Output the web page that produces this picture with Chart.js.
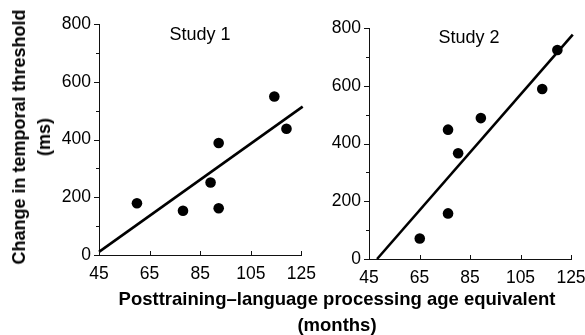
<!DOCTYPE html>
<html>
<head>
<meta charset="utf-8">
<script src="https://cdn.jsdelivr.net/npm/chart.js"></script>
<style>
  body { margin: 0; background: #fff; width: 585px; height: 335px; overflow: hidden; position: relative;
         font-family: "Liberation Sans", Arial, sans-serif; color: #000; }
  canvas { position: absolute; top: 0; }
  .lbl { position: absolute; transform: translate(-50%, -50%); white-space: nowrap; text-align: center; }
  .bold { font-weight: bold; }
</style>
</head>
<body>
<canvas id="study1" width="325" height="290" style="left:0"></canvas>
<canvas id="study2" width="305" height="290" style="left:290px"></canvas>

<div class="lbl" style="left:200px;top:34px;font-size:18px;line-height:18px">Study 1</div>
<div class="lbl" style="left:469px;top:36.5px;font-size:18px;line-height:18px">Study 2</div>
<div class="lbl bold" style="left:32px;top:137px;font-size:18px;line-height:25px;transform:translate(-50%,-50%) rotate(-90deg)">Change in temporal threshold<br>(ms)</div>
<div class="lbl bold" style="left:337px;top:311px;font-size:18.5px;line-height:25.5px">Posttraining–language processing age equivalent<br>(months)</div>

<script>
  //values
  const xTicks = [45, 65, 85, 105, 125];
  const yTicks = [0, 200, 400, 600, 800];
  const yMinorTicks = [100, 300, 500, 700];

  const study1Age = [60, 78.2, 89.1, 92.3, 92.3, 114.3, 119.1];
  const study1Change = [179, 153, 251, 388, 162, 549, 437];
  const study1FitX = [45, 125.5];
  const study1FitY = [11, 514];

  const study2Age = [65.1, 76.3, 76.3, 80.3, 89.3, 113.6, 119.6];
  const study2Change = [71, 158, 448, 366, 488, 589, 724];
  const study2FitX = [48.2, 125.7];
  const study2FitY = [0, 777];

  //tick marks: y ticks outside (left), x ticks pointing up into the plot
  const tickMarks = {
    id: 'tickMarks',
    afterDraw(chart) {
      const ctx = chart.ctx, a = chart.chartArea, x = chart.scales.x, y = chart.scales.y;
      ctx.save();
      ctx.strokeStyle = '#111';
      ctx.lineWidth = 1;
      ctx.beginPath();
      yTicks.forEach(v => {
        const py = Math.round(y.getPixelForValue(v)) + 0.5;
        ctx.moveTo(a.left - 5, py); ctx.lineTo(a.left, py);
      });
      yMinorTicks.forEach(v => {
        const py = Math.round(y.getPixelForValue(v)) + 0.5;
        ctx.moveTo(a.left - 3, py); ctx.lineTo(a.left, py);
      });
      xTicks.forEach(v => {
        const px = Math.round(x.getPixelForValue(v)) + 0.5;
        ctx.moveTo(px, a.bottom); ctx.lineTo(px, a.bottom - 4);
      });
      ctx.stroke();
      ctx.restore();
    }
  };

  function makeChart(id, ages, changes, fitX, fitY, yWidth, xHeight, pad) {
    const points = ages.map((v, i) => ({ x: v, y: changes[i] }));
    const fit = fitX.map((v, i) => ({ x: v, y: fitY[i] }));
    const tickFont = { family: 'Liberation Sans', size: 17.5 };
    return new Chart(document.getElementById(id), {
      type: 'scatter',
      data: {
        datasets: [{
          data: points,
          backgroundColor: '#000',
          borderWidth: 0,
          pointRadius: 5.3
        }, {
          type: 'line',
          data: fit,
          borderColor: '#000',
          borderWidth: 2.6,
          pointRadius: 0,
          clip: false
        }]
      },
      options: {
        responsive: false,
        animation: false,
        devicePixelRatio: 1,
        layout: { padding: pad },
        plugins: { legend: { display: false }, tooltip: { enabled: false } },
        scales: {
          x: {
            type: 'linear', min: 45, max: 125,
            afterBuildTicks: s => { s.ticks = xTicks.map(v => ({ value: v })); },
            afterFit: s => { s.height = xHeight; },
            grid: { display: false, drawTicks: false },
            border: { color: '#111', width: 1 },
            ticks: { color: '#000', font: tickFont, padding: 9, maxRotation: 0, autoSkip: false }
          },
          y: {
            min: 0, max: 800,
            afterBuildTicks: s => { s.ticks = yTicks.map(v => ({ value: v })); },
            afterFit: s => { s.width = yWidth; },
            grid: { display: false, drawTicks: false },
            border: { color: '#111', width: 1 },
            ticks: { color: '#000', font: tickFont, padding: 8 }
          }
        }
      },
      plugins: [tickMarks]
    });
  }

  makeChart('study1', study1Age, study1Change, study1FitX, study1FitY, 99, 35, { top: 24, right: 23, bottom: 0, left: 0 });
  makeChart('study2', study2Age, study2Change, study2FitX, study2FitY, 79, 31, { top: 28, right: 24, bottom: 0, left: 0 });
</script>
</body>
</html>
